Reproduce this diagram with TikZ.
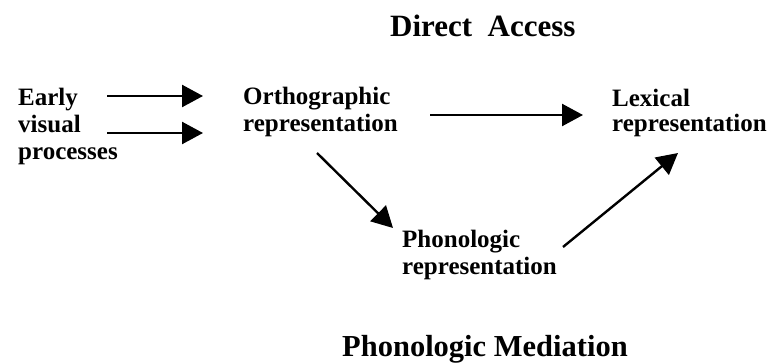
\documentclass[tikz,border=0pt]{standalone}
\usepackage{fontspec}
\setmainfont{Liberation Serif}
\usetikzlibrary{arrows.meta}
\tikzset{
  lbl/.style={inner sep=0pt, anchor=base west, align=left, font=\fontsize{25}{27}\selectfont\bfseries},
  ttl/.style={inner sep=0pt, anchor=base west, font=\fontsize{31}{33}\selectfont\bfseries},
  arr/.style={line width=2.4pt, -{Triangle[length=21pt,width=22pt]}}
}
\begin{document}
\begin{tikzpicture}[x=1pt,y=-1pt]
\useasboundingbox (0,0) rectangle (770,363);
\node[ttl] (da) at (390,37) {Direct\ \ Access};
\node[ttl,font=\fontsize{30.5}{33}\selectfont\bfseries] (pm) at (342,356) {Phonologic Mediation};
% base anchors of multi-line nodes lie on the last line
\node[lbl] (early) at (18,160) {Early\\visual\\processes};
\node[lbl] (ortho) at (243,132) {Orthographic\\representation};
\node[lbl,font=\fontsize{25}{25.5}\selectfont\bfseries] (lex) at (612,132) {Lexical\\representation};
\node[lbl] (phon) at (402,274) {Phonologic\\representation};
\draw[arr] ([shift={(89,-64)}]early.base west) -- ([shift={(-40,-36)}]ortho.base west);
\draw[arr] ([shift={(89,-27)}]early.base west) -- ([shift={(-40,1)}]ortho.base west);
\draw[arr] ([shift={(187,-17)}]ortho.base west) -- ([shift={(-29,-17)}]lex.base west);
\draw[arr] ([shift={(74,21)}]ortho.base west) -- ([shift={(-9,-46)}]phon.base west);
\draw[arr] ([shift={(161,-27)}]phon.base west) -- ([shift={(66,21)}]lex.base west);
\end{tikzpicture}
\end{document}
